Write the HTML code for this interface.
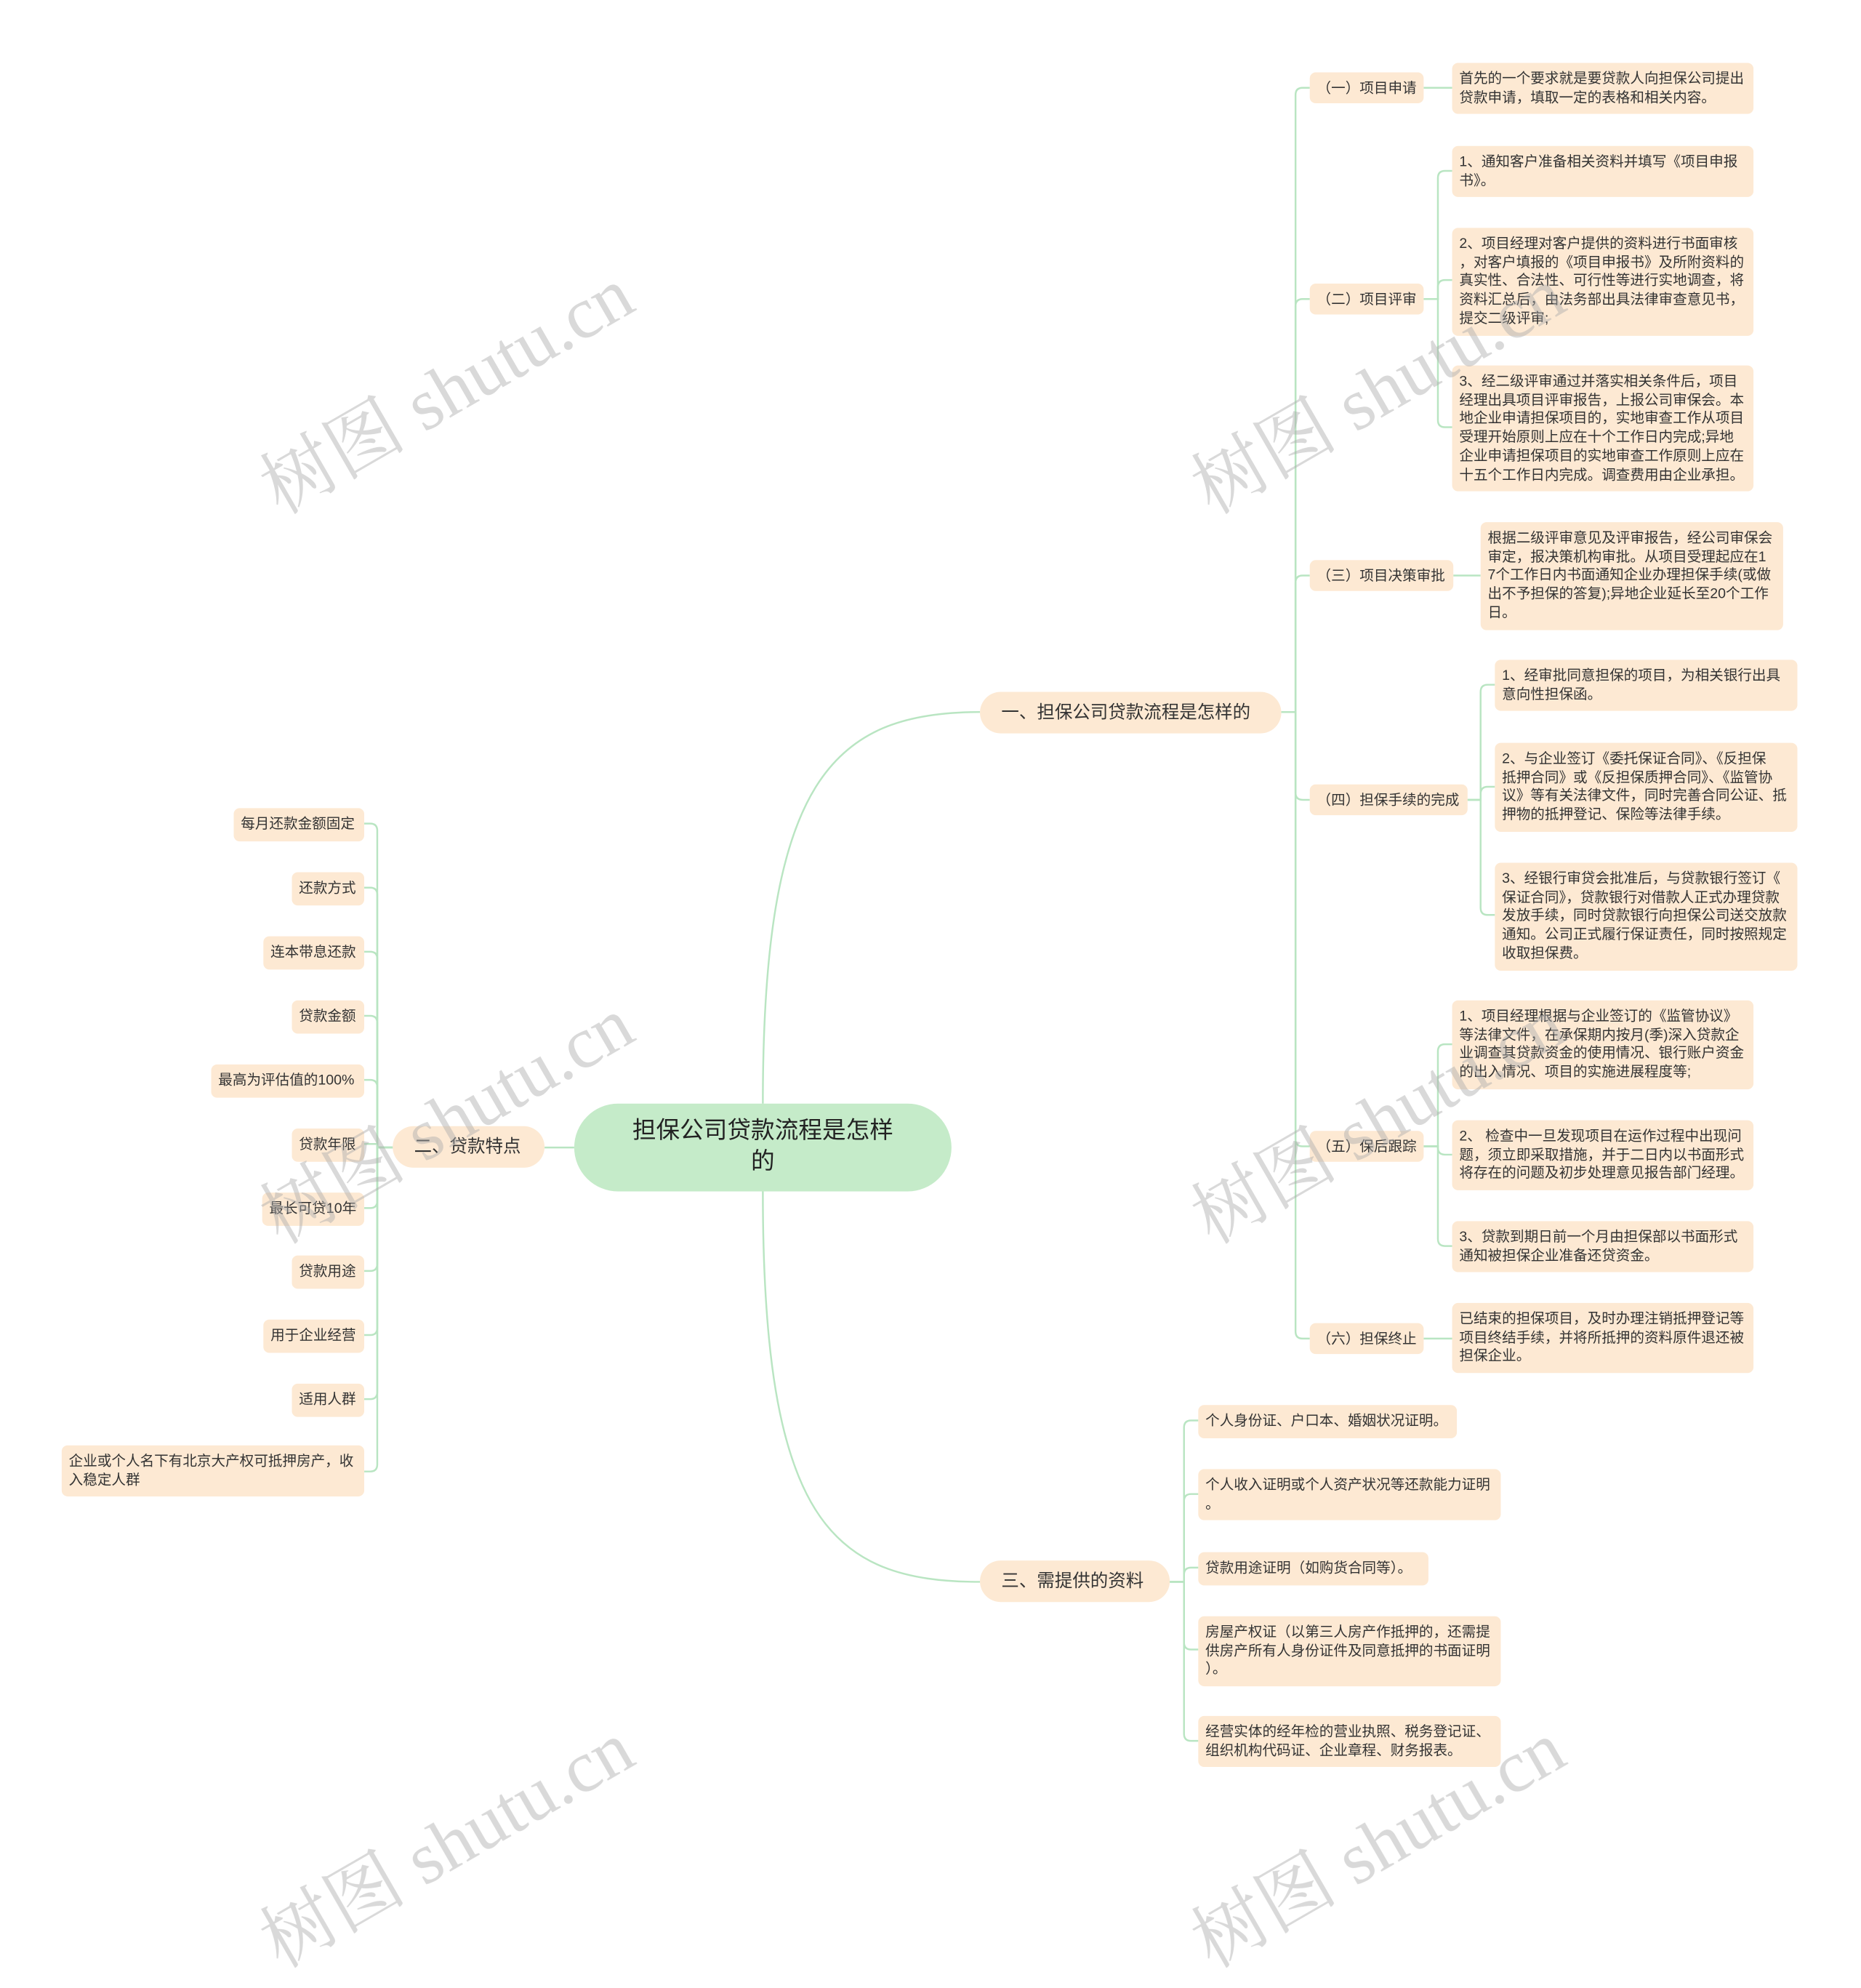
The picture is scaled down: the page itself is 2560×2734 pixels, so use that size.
<!DOCTYPE html>
<html><head><meta charset="utf-8">
<style>
html,body{margin:0;padding:0;background:#fff;}
body{width:2560px;height:2517px;overflow:hidden;position:relative;}
#w{position:absolute;left:0;top:0;width:1570px;height:1545px;transform:scale(1.632);transform-origin:0 0;font-family:"Liberation Sans","Noto Sans CJK SC",sans-serif;color:#333;}
.n{position:absolute;background:#fde9d3;border-radius:5px;box-sizing:border-box;white-space:nowrap;}
.leaf{font-size:12px;line-height:15.7px;padding:6px 6px;}
.sub{font-size:12px;height:26px;line-height:26px;padding:0 6px;}
.br{font-size:15px;height:35px;line-height:35px;padding:0 18px;border-radius:18px;}
.root{position:absolute;left:484px;top:930px;width:318px;height:74px;background:#c5ebc9;border-radius:37px;font-size:20px;line-height:26px;text-align:center;box-sizing:border-box;padding-top:10px;color:#222;}
svg{position:absolute;left:0;top:0;}
.wm{position:absolute;font-family:"Liberation Serif","Noto Serif CJK SC",serif;font-size:62px;color:rgba(170,170,170,0.45);transform:rotate(-30deg);transform-origin:center;white-space:nowrap;}
</style></head><body><div id="w">
<svg width="1570" height="1545" fill="none" stroke="#b9e5c2" stroke-width="1.5">
<path d="M643,930 C643,660 700,600 826,600"/>
<path d="M643,1004 C643,1280 700,1333 826,1333"/>
<path d="M484,967 H459"/>
<path d="M1080,600 H1092 V80 Q1092,74 1098,74 H1104"/>
<path d="M1080,600 H1092 V258 Q1092,252 1098,252 H1104"/>
<path d="M1080,600 H1092 V491 Q1092,485 1098,485 H1104"/>
<path d="M1080,600 H1092 V668 Q1092,674 1098,674 H1104"/>
<path d="M1080,600 H1092 V960 Q1092,966 1098,966 H1104"/>
<path d="M1080,600 H1092 V1122 Q1092,1128 1098,1128 H1104"/>
<path d="M1200,74 H1224"/><path d="M1225,485 H1248"/><path d="M1200,1128 H1224"/>
<path d="M1200,252 H1212 V150 Q1212,144 1218,144 H1224"/>
<path d="M1200,252 H1212 V242 Q1212,236 1218,236 H1224"/>
<path d="M1200,252 H1212 V354 Q1212,360 1218,360 H1224"/>
<path d="M1237,674 H1248 V583 Q1248,577 1254,577 H1260"/>
<path d="M1237,674 H1248 V669 Q1248,663 1254,663 H1260"/>
<path d="M1237,674 H1248 V765 Q1248,771 1254,771 H1260"/>
<path d="M1200,966 H1212 V886 Q1212,880 1218,880 H1224"/>
<path d="M1200,966 H1212 V967 Q1212,973 1218,973 H1224"/>
<path d="M1200,966 H1212 V1044 Q1212,1050 1218,1050 H1224"/>
<path d="M986,1333 H998 V1203 Q998,1197 1004,1197 H1010"/>
<path d="M986,1333 H998 V1265 Q998,1259 1004,1259 H1010"/>
<path d="M986,1333 H998 V1327 Q998,1321 1004,1321 H1010"/>
<path d="M986,1333 H998 V1384 Q998,1390 1004,1390 H1010"/>
<path d="M986,1333 H998 V1461 Q998,1467 1004,1467 H1010"/>
<path d="M331,967 H318 V700 Q318,694 312,694 H307"/>
<path d="M331,967 H318 V754 Q318,748 312,748 H307"/>
<path d="M331,967 H318 V808 Q318,802 312,802 H307"/>
<path d="M331,967 H318 V862 Q318,856 312,856 H307"/>
<path d="M331,967 H318 V916 Q318,910 312,910 H307"/>
<path d="M331,967 H318 V964 Q318,964 312,964 H307"/>
<path d="M331,967 H318 V1012 Q318,1018 312,1018 H307"/>
<path d="M331,967 H318 V1065 Q318,1071 312,1071 H307"/>
<path d="M331,967 H318 V1119 Q318,1125 312,1125 H307"/>
<path d="M331,967 H318 V1173 Q318,1179 312,1179 H307"/>
<path d="M331,967 H318 V1234 Q318,1240 312,1240 H307"/>
</svg>

<div class="root">担保公司贷款流程是怎样<br>的</div>
<div class="n br" style="left:826px;top:583px;width:254px;">一、担保公司贷款流程是怎样的</div>
<div class="n br" style="left:331px;top:949px;width:128px;">二、贷款特点</div>
<div class="n br" style="left:826px;top:1315px;width:160px;">三、需提供的资料</div>

<div class="n sub" style="left:1104px;top:61px;width:96px;">（一）项目申请</div>
<div class="n sub" style="left:1104px;top:239px;width:96px;">（二）项目评审</div>
<div class="n sub" style="left:1104px;top:472px;width:121px;">（三）项目决策审批</div>
<div class="n sub" style="left:1104px;top:661px;width:133px;">（四）担保手续的完成</div>
<div class="n sub" style="left:1104px;top:953px;width:96px;">（五）保后跟踪</div>
<div class="n sub" style="left:1104px;top:1115px;width:96px;">（六）担保终止</div>

<div class="n leaf" style="left:1224px;top:53px;width:254px;">首先的一个要求就是要贷款人向担保公司提出<br>贷款申请，填取一定的表格和相关内容。</div>
<div class="n leaf" style="left:1224px;top:123px;width:254px;">1、通知客户准备相关资料并填写《项目申报<br>书》。</div>
<div class="n leaf" style="left:1224px;top:192px;width:254px;">2、项目经理对客户提供的资料进行书面审核<br>，对客户填报的《项目申报书》及所附资料的<br>真实性、合法性、可行性等进行实地调查，将<br>资料汇总后，由法务部出具法律审查意见书，<br>提交二级评审;</div>
<div class="n leaf" style="left:1224px;top:308px;width:254px;">3、经二级评审通过并落实相关条件后，项目<br>经理出具项目评审报告，上报公司审保会。本<br>地企业申请担保项目的，实地审查工作从项目<br>受理开始原则上应在十个工作日内完成;异地<br>企业申请担保项目的实地审查工作原则上应在<br>十五个工作日内完成。调查费用由企业承担。</div>
<div class="n leaf" style="left:1248px;top:440px;width:255px;">根据二级评审意见及评审报告，经公司审保会<br>审定，报决策机构审批。从项目受理起应在1<br>7个工作日内书面通知企业办理担保手续(或做<br>出不予担保的答复);异地企业延长至20个工作<br>日。</div>
<div class="n leaf" style="left:1260px;top:556px;width:255px;">1、经审批同意担保的项目，为相关银行出具<br>意向性担保函。</div>
<div class="n leaf" style="left:1260px;top:626px;width:255px;">2、与企业签订《委托保证合同》、《反担保<br>抵押合同》或《反担保质押合同》、《监管协<br>议》等有关法律文件，同时完善合同公证、抵<br>押物的抵押登记、保险等法律手续。</div>
<div class="n leaf" style="left:1260px;top:727px;width:255px;">3、经银行审贷会批准后，与贷款银行签订《<br>保证合同》，贷款银行对借款人正式办理贷款<br>发放手续，同时贷款银行向担保公司送交放款<br>通知。公司正式履行保证责任，同时按照规定<br>收取担保费。</div>
<div class="n leaf" style="left:1224px;top:843px;width:254px;">1、项目经理根据与企业签订的《监管协议》<br>等法律文件，在承保期内按月(季)深入贷款企<br>业调查其贷款资金的使用情况、银行账户资金<br>的出入情况、项目的实施进展程度等;</div>
<div class="n leaf" style="left:1224px;top:944px;width:254px;">2、 检查中一旦发现项目在运作过程中出现问<br>题，须立即采取措施，并于二日内以书面形式<br>将存在的问题及初步处理意见报告部门经理。</div>
<div class="n leaf" style="left:1224px;top:1029px;width:254px;">3、贷款到期日前一个月由担保部以书面形式<br>通知被担保企业准备还贷资金。</div>
<div class="n leaf" style="left:1224px;top:1098px;width:254px;">已结束的担保项目，及时办理注销抵押登记等<br>项目终结手续，并将所抵押的资料原件退还被<br>担保企业。</div>

<div class="n leaf" style="left:1010px;top:1184px;width:218px;">个人身份证、户口本、婚姻状况证明。</div>
<div class="n leaf" style="left:1010px;top:1238px;width:255px;">个人收入证明或个人资产状况等还款能力证明<br>。</div>
<div class="n leaf" style="left:1010px;top:1308px;width:194px;">贷款用途证明（如购货合同等）。</div>
<div class="n leaf" style="left:1010px;top:1362px;width:255px;">房屋产权证（以第三人房产作抵押的，还需提<br>供房产所有人身份证件及同意抵押的书面证明<br>）。</div>
<div class="n leaf" style="left:1010px;top:1446px;width:255px;">经营实体的经年检的营业执照、税务登记证、<br>组织机构代码证、企业章程、财务报表。</div>

<div class="n leaf" style="left:197px;top:681px;width:110px;">每月还款金额固定</div>
<div class="n leaf" style="left:246px;top:735px;width:61px;">还款方式</div>
<div class="n leaf" style="left:222px;top:789px;width:85px;">连本带息还款</div>
<div class="n leaf" style="left:246px;top:843px;width:61px;">贷款金额</div>
<div class="n leaf" style="left:178px;top:897px;width:129px;">最高为评估值的100%</div>
<div class="n leaf" style="left:246px;top:951px;width:61px;">贷款年限</div>
<div class="n leaf" style="left:221px;top:1005px;width:86px;">最长可贷10年</div>
<div class="n leaf" style="left:246px;top:1058px;width:61px;">贷款用途</div>
<div class="n leaf" style="left:222px;top:1112px;width:85px;">用于企业经营</div>
<div class="n leaf" style="left:246px;top:1166px;width:61px;">适用人群</div>
<div class="n leaf" style="left:52px;top:1218px;width:255px;">企业或个人名下有北京大产权可抵押房产，收<br>入稳定人群</div>

<div class="wm" style="left:200px;top:280px;">树图 shutu.cn</div>
<div class="wm" style="left:985px;top:280px;">树图 shutu.cn</div>
<div class="wm" style="left:200px;top:895px;">树图 shutu.cn</div>
<div class="wm" style="left:985px;top:895px;">树图 shutu.cn</div>
<div class="wm" style="left:200px;top:1505px;">树图 shutu.cn</div>
<div class="wm" style="left:985px;top:1505px;">树图 shutu.cn</div>
</div></body></html>
